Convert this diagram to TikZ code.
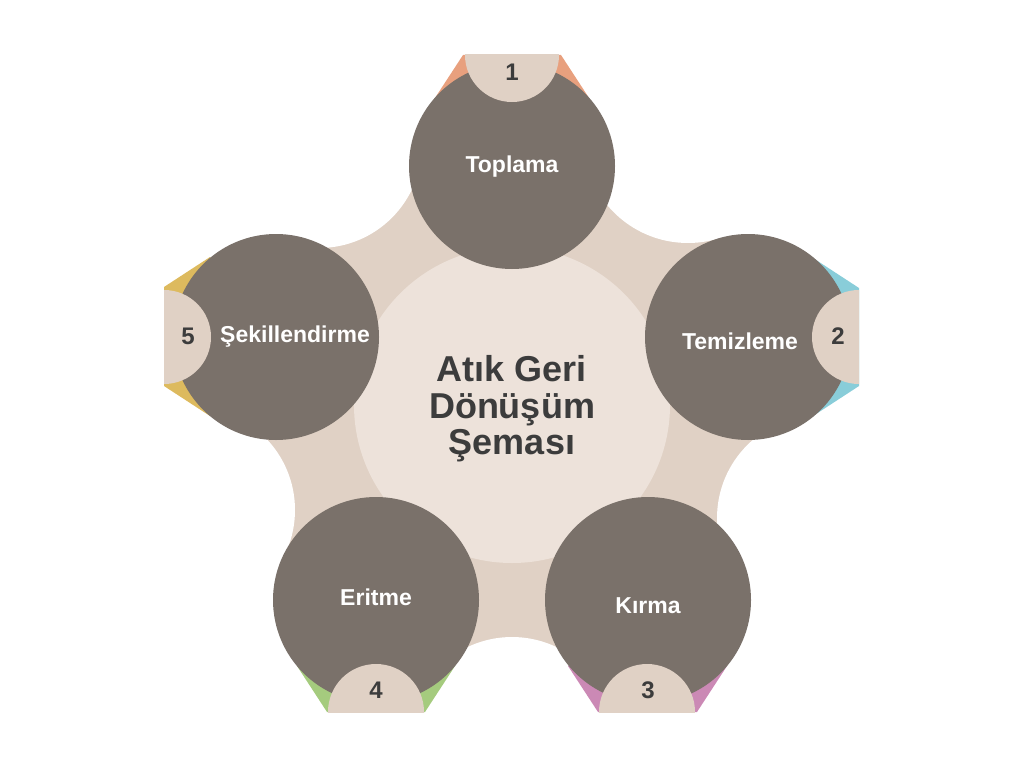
\documentclass[tikz,border=0pt]{standalone}
\usepackage{fontspec}
\setmainfont{Liberation Sans}
\definecolor{darkc}{RGB}{122,113,106}
\definecolor{beige}{RGB}{224,209,197}
\definecolor{inner}{RGB}{237,226,218}
\definecolor{textc}{RGB}{60,60,60}
\definecolor{orangec}{RGB}{232,160,126}
\definecolor{tealc}{RGB}{137,205,217}
\definecolor{pinkc}{RGB}{203,137,181}
\definecolor{greenc}{RGB}{165,203,126}
\definecolor{yellowc}{RGB}{221,186,94}
\tikzset{
  stepname/.style={text=white,font=\bfseries\fontsize{23}{26}\selectfont},
  numname/.style={text=textc,font=\bfseries\fontsize{24}{28}\selectfont},
  titlename/.style={text=textc,align=center,font=\bfseries\fontsize{36}{36.5}\selectfont}
}

\begin{document}
\begin{tikzpicture}[x=1pt,y=-1pt]
\useasboundingbox (0,0) rectangle (1024,768);
% background shape
\fill[beige] (512,166) -- (688,138) -- (748,337) -- (820,518) -- (648,600) -- (512,740)
  -- (376,600) -- (192,510) -- (276,337) -- (319,145) -- cycle;
\fill[white] (319,145) circle (103pt);
\fill[white] (688,138) circle (105pt);
\fill[white] (820,518) circle (103pt);
\fill[white] (512,740) circle (103pt);
\fill[white] (192,510) circle (103pt);
\fill[inner] (512,405) circle (158pt);
% coloured tabs
\fill[orangec] (463,55) -- (433,101) -- (512,166) -- (591,101) -- (561,55) -- cycle;
\fill[tealc] (859,288) -- (813,258) -- (748,337) -- (813,416) -- (859,386) -- cycle;
\fill[pinkc] (598,712) -- (568,666) -- (648,600) -- (727,666) -- (697,712) -- cycle;
\fill[greenc] (327,712) -- (297,666) -- (376,600) -- (455,666) -- (425,712) -- cycle;
\fill[yellowc] (164,287) -- (210,257) -- (276,337) -- (210,416) -- (164,386) -- cycle;
% step circles
\fill[darkc] (512,166) circle (103pt);
\fill[darkc] (748,337) circle (103pt);
\fill[darkc] (648,600) circle (103pt);
\fill[darkc] (376,600) circle (103pt);
\fill[darkc] (276,337) circle (103pt);
% number half discs
\begin{scope}\clip (440,55) rectangle (584,120); \fill[beige] (512,55) circle (47pt); \end{scope}
\begin{scope}\clip (800,280) rectangle (859,395); \fill[beige] (859,337) circle (47pt); \end{scope}
\begin{scope}\clip (590,650) rectangle (705,712); \fill[beige] (647,712) circle (48pt); \end{scope}
\begin{scope}\clip (320,650) rectangle (435,712); \fill[beige] (376,712) circle (48pt); \end{scope}
\begin{scope}\clip (164,280) rectangle (225,395); \fill[beige] (164,337) circle (47pt); \end{scope}
% texts
\node[titlename] (title) at (512,409) {Atık Geri\\Dönüşüm\\Şeması};
\node[stepname] (toplama) at (512,167) {Toplama};
\node[stepname] (temizleme) at (740,341) {Temizleme};
\node[stepname] (kirma) at (648,606) {Kırma};
\node[stepname] (eritme) at (376,597) {Eritme};
\node[stepname] (sekil) at (295,337) {Şekillendirme};
\node[numname] (n1) at (512,72) {1};
\node[numname] (n2) at (838,336) {2};
\node[numname] (n3) at (648,690) {3};
\node[numname] (n4) at (376,690) {4};
\node[numname] (n5) at (188,336) {5};
\end{tikzpicture}
\end{document}
